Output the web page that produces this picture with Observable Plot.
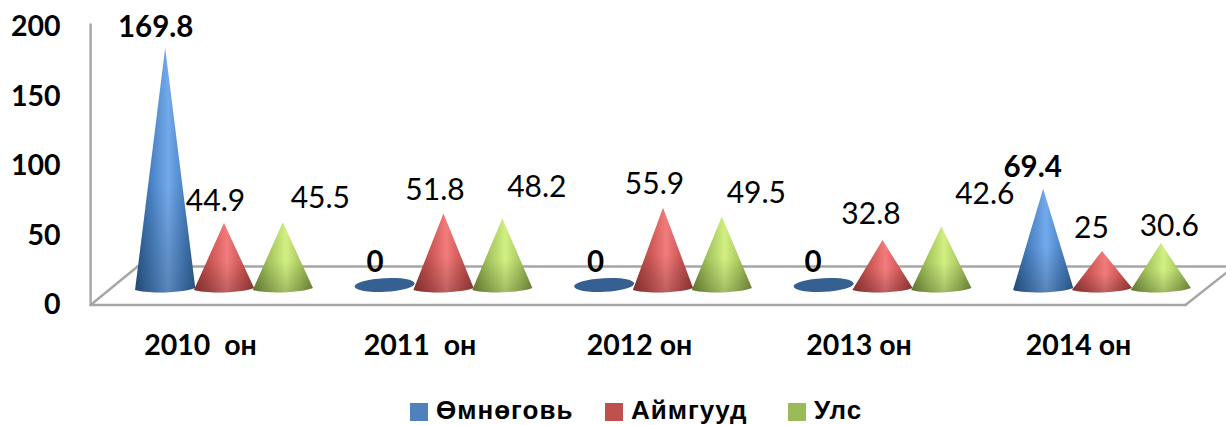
<!DOCTYPE html>
<html>
<head>
<meta charset="utf-8">
<script src="https://cdn.jsdelivr.net/npm/d3@7"></script>
<script src="https://cdn.jsdelivr.net/npm/@observablehq/plot@0.6"></script>
<style>
html,body{margin:0;padding:0;background:#fff;overflow:hidden}
svg text{white-space:pre}
#legend{position:relative;height:30px;font:700 26px "Liberation Sans",Arial,sans-serif;letter-spacing:1px;color:#000}
#legend span{position:absolute;top:0;line-height:30px;white-space:nowrap}
#legend i{position:absolute;top:8px;width:18px;height:18px}
</style>
</head>
<body>
<div id="chart"></div>
<div id="legend"></div>
<script>
const categories = ["2010  он", "2011  он", "2012 он", "2013 он", "2014 он"];
const seriesNames = ["Өмнөговь", "Аймгууд", "Улс"];
const omnogovi = [169.8, 0, 0, 0, 69.4];
const aimguud = [44.9, 51.8, 55.9, 32.8, 25];
const uls = [45.5, 48.2, 49.5, 42.6, 30.6];
const yTicks = [0, 50, 100, 150, 200];

const swatches = ["#4f81bd", "#c0504d", "#9bbb59"];
const shades = [
  ["#2c5d94", "#4b84c6", "#74aaec", "#4b84c6", "#34689f"],
  ["#9c3a38", "#cb5654", "#f27c7b", "#cb5654", "#a23f3d"],
  ["#76913a", "#a7c65f", "#d2f082", "#a7c65f", "#7f9a40"]
];
const flatFill = "#366092";

const FONT = 'Lato,"Open Sans",sans-serif';
const pxX = 219.5, pxY = 1.402;               // scale factors used for label nudges
const seriesOffset = [-0.268, 0, 0.268], coneHalf = 0.137;
const front = v => v * 0.9914 - 13.2;         // y axis sits on the chart's front plane

const rows = [omnogovi, aimguud, uls].flatMap((vals, s) =>
  vals.map((v, g) => ({series: seriesNames[s], s, g, v, x: g + seriesOffset[s]})));

// hand-placed data labels, as in the source chart: [dx, dy] from the cone tip, px
const nudges = [
  [[-10,-21],[-10,0],[-9,0],[-11,0],[-11,-22]],
  [[-9,-22],[-9,-23],[-9,-24],[-12,-26],[-11,-23]],
  [[37,-24],[34,-32],[34,-24],[43,-32],[8,-17]]
];
const labelRows = rows.map(d => {
  const [dx, dy] = nudges[d.s][d.g];
  const zero = d.v === 0;
  return {...d, lx: d.x + dx / pxX, ly: zero ? 17 : d.v - dy / pxY};
});

const frame = {
  front: {x: [-0.61, 4.378], y: [-13.2, -13.2]},
  left: {x: [-0.61, -0.61], y: [-13.2, 186.9]},
  floorL: {x: [-0.61, -0.396], y: [-13.2, 14.3]},
  floorR: {x: [4.378, 4.6], y: [-13.2, 14.3]},
  back: {x: [-0.396, 4.6], y: [14.3, 14.3]}
};
const frameLine = f => Plot.line(f.x.map((x, i) => ({x, y: f.y[i]})),
  {x: "x", y: "y", stroke: "#a6a6a6", strokeWidth: 2.4});

function cones(index, scales, values, dim, ctx) {
  const g = d3.create("svg:g");
  const defs = g.append("defs");
  shades.forEach((c, k) => {
    const lg = defs.append("linearGradient").attr("id", "cone" + k);
    [0, 0.28, 0.55, 0.8, 1].forEach((o, n) =>
      lg.append("stop").attr("offset", o).attr("stop-color", c[n]));
  });
  const sh = defs.append("linearGradient").attr("id", "coneShade")
    .attr("x1", 0).attr("y1", 0).attr("x2", 0).attr("y2", 1);
  [[0, 0], [0.55, 0], [1, 0.22]].forEach(([o, a]) =>
    sh.append("stop").attr("offset", o).attr("stop-color", "#000").attr("stop-opacity", a));
  for (const i of index) {
    const d = rows[i];
    const x1 = values.x1[i], x2 = values.x2[i], cx = (x1 + x2) / 2;
    const y0 = values.y1[i], top = values.y2[i];
    const rx = (x2 - x1) / 2;
    if (d.v === 0) {
      g.append("ellipse").attr("cx", cx).attr("cy", y0 - 1)
        .attr("rx", rx).attr("ry", 6.8).attr("fill", flatFill)
        .attr("transform", `rotate(-3 ${cx} ${y0 - 1})`);
    } else {
      const p = d3.path();
      p.moveTo(cx, top);
      p.lineTo(x2, y0 + 2);
      p.bezierCurveTo(x2 - rx * 0.4, y0 + 7, x1 + rx * 0.4, y0 + 8, x1, y0 + 4);
      p.closePath();
      g.append("path").attr("d", p.toString()).attr("fill", `url(#cone${d.s})`);
      g.append("path").attr("d", p.toString()).attr("fill", "url(#coneShade)");
    }
  }
  return g.node();
}

const plot = Plot.plot({
  width: 1226, height: 395,
  marginLeft: 0, marginRight: 0, marginTop: 0, marginBottom: 0,
  x: {domain: [0, 4], range: [224, 1102], axis: null},
  y: {domain: [0, 200], range: [286, 5.6], axis: null},
  color: {domain: seriesNames, range: swatches},
  style: {background: "#fff", fontFamily: FONT},
  marks: [
    frameLine(frame.back), frameLine(frame.floorL), frameLine(frame.floorR),
    frameLine(frame.front), frameLine(frame.left),
    Plot.rect(rows, {
      x1: d => d.x - coneHalf, x2: d => d.x + coneHalf,
      y1: () => 0, y2: "v", fill: "series", render: cones
    }),
    Plot.text(yTicks, {
      x: () => -0.61, y: d => front(d), text: d => String(d), dx: -30, textAnchor: "end",
      fontSize: 28.5, fontWeight: 700, fill: "#000", lineAnchor: "middle"
    }),
    Plot.text(categories, {
      x: (d, i) => i, y: () => -42, text: d => d, dx: -24,
      fontSize: 28.5, fontWeight: 700, fill: "#000", lineAnchor: "middle"
    }),
    Plot.text(labelRows.filter(d => d.s === 0), {
      x: "lx", y: "ly", text: d => String(d.v),
      fontSize: 29.5, fontWeight: 700, fill: "#000", lineAnchor: "middle"
    }),
    Plot.text(labelRows.filter(d => d.s !== 0), {
      x: "lx", y: "ly", text: d => String(d.v),
      fontSize: 30, fontWeight: 400, fill: "#000", lineAnchor: "middle"
    })
  ]
});
document.getElementById("chart").appendChild(plot);
plot.style.display = "block";

const legendLeft = [410, 605, 788];
const legend = d3.select("#legend");
seriesNames.forEach((name, k) => {
  const s = legend.append("span").style("left", legendLeft[k] + "px").style("padding-left", "26px");
  s.append("i").style("left", "0").style("background", swatches[k]);
  s.append("b").text(name);
});
</script>
</body>
</html>
